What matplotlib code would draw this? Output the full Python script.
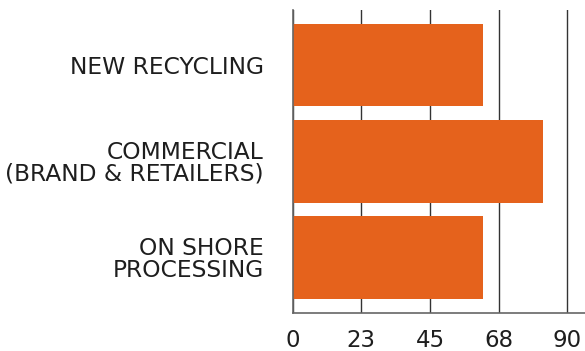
import matplotlib
matplotlib.use("Agg")
from matplotlib import pyplot as plt

categories = ["NEW RECYCLING", "COMMERCIAL\n(BRAND & RETAILERS)", "ON SHORE\nPROCESSING"]
values = [62.4, 82.0, 62.4]
tick_vals = [0, 22.5, 45, 67.5, 90]
tick_labels = ["0", "23", "45", "68", "90"]

plt.rcParams['font.family'] = ['DejaVu Sans']

fig = plt.figure(figsize=(5.85, 3.51), dpi=100)
ax = fig.add_axes([0.5003, 0.109, 0.4997, 0.8625])

ypos = range(len(categories))
ax.barh(ypos, values, height=0.86, color='#E5621C', zorder=2)
ax.set_ylim(2.57, -0.57)
ax.set_xlim(0, 95.8)

ax.set_yticks(list(ypos))
ax.set_yticklabels(categories, fontsize=16.8, color='#1e1e1e', linespacing=0.95)
ax.set_xticks(tick_vals)
ax.set_xticklabels(tick_labels, fontsize=16.5, color='#1e1e1e')
ax.tick_params(axis='y', length=0, pad=21)
ax.tick_params(axis='x', length=0, pad=12)

ax.grid(axis='x', color='#333333', lw=1, zorder=1)
for s in ['top', 'right']:
    ax.spines[s].set_visible(False)
for s in ['left', 'bottom']:
    ax.spines[s].set_color('#666666')
    ax.spines[s].set_linewidth(1.2)

fig.savefig('out.png', dpi=100)
